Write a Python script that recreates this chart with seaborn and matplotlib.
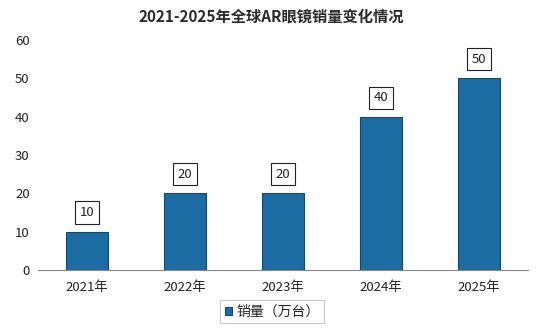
import matplotlib
matplotlib.use("Agg")
import matplotlib.pyplot as plt
import seaborn as sns
import pandas as pd

years = ["2021年", "2022年", "2023年", "2024年", "2025年"]
sales = [10, 20, 20, 40, 50]
series_name = "销量（万台）"
title = "2021-2025年全球AR眼镜销量变化情况"
yticks = [0, 10, 20, 30, 40, 50, 60]

sns.set_theme(style="white")
plt.rcParams['font.family'] = ['Noto Sans CJK SC', 'DejaVu Sans']

df = pd.DataFrame({"year": years, "sales": sales, "series": series_name})

fig = plt.figure(figsize=(5.43, 3.34), dpi=100)
ax = fig.add_axes([0.070, 0.192, 0.902, 0.688])

sns.barplot(data=df, x="year", y="sales", hue="series", palette=["#1a6ca3"],
            width=0.43, edgecolor="#0f4a73", linewidth=0.8, ax=ax, saturation=1)

for c in ax.containers:
    ax.bar_label(c, labels=[str(v) for v in sales], padding=9, fontsize=9.5, color="#222222",
                 bbox=dict(boxstyle="square,pad=0.35", fc="white", ec="#222222", lw=0.8))

ax.set_ylim(0, 60)
ax.set_yticks(yticks)
ax.set_xlim(-0.5, 4.5)
ax.set_xlabel("")
ax.set_ylabel("")
ax.tick_params(axis="both", labelsize=9.5, colors="#222222", length=0, pad=6)
ax.tick_params(axis="x", pad=8)
for s in ["top", "right", "left"]:
    ax.spines[s].set_visible(False)
ax.spines["bottom"].set_color("#888888")
ax.spines["bottom"].set_linewidth(0.8)

leg = ax.legend(loc="upper center", bbox_to_anchor=(0.478, -0.13), ncol=1, frameon=True,
                fontsize=10, handlelength=0.5, handleheight=0.5, handletextpad=0.3,
                borderpad=0.35, borderaxespad=0, fancybox=False)
leg.get_frame().set_edgecolor("#bbbbbb")
leg.get_frame().set_linewidth(0.8)

fig.suptitle(title, x=0.5, y=0.975, fontsize=11, fontweight="bold", color="#2b2b2b")

fig.savefig("out.png", dpi=100, facecolor="white")
